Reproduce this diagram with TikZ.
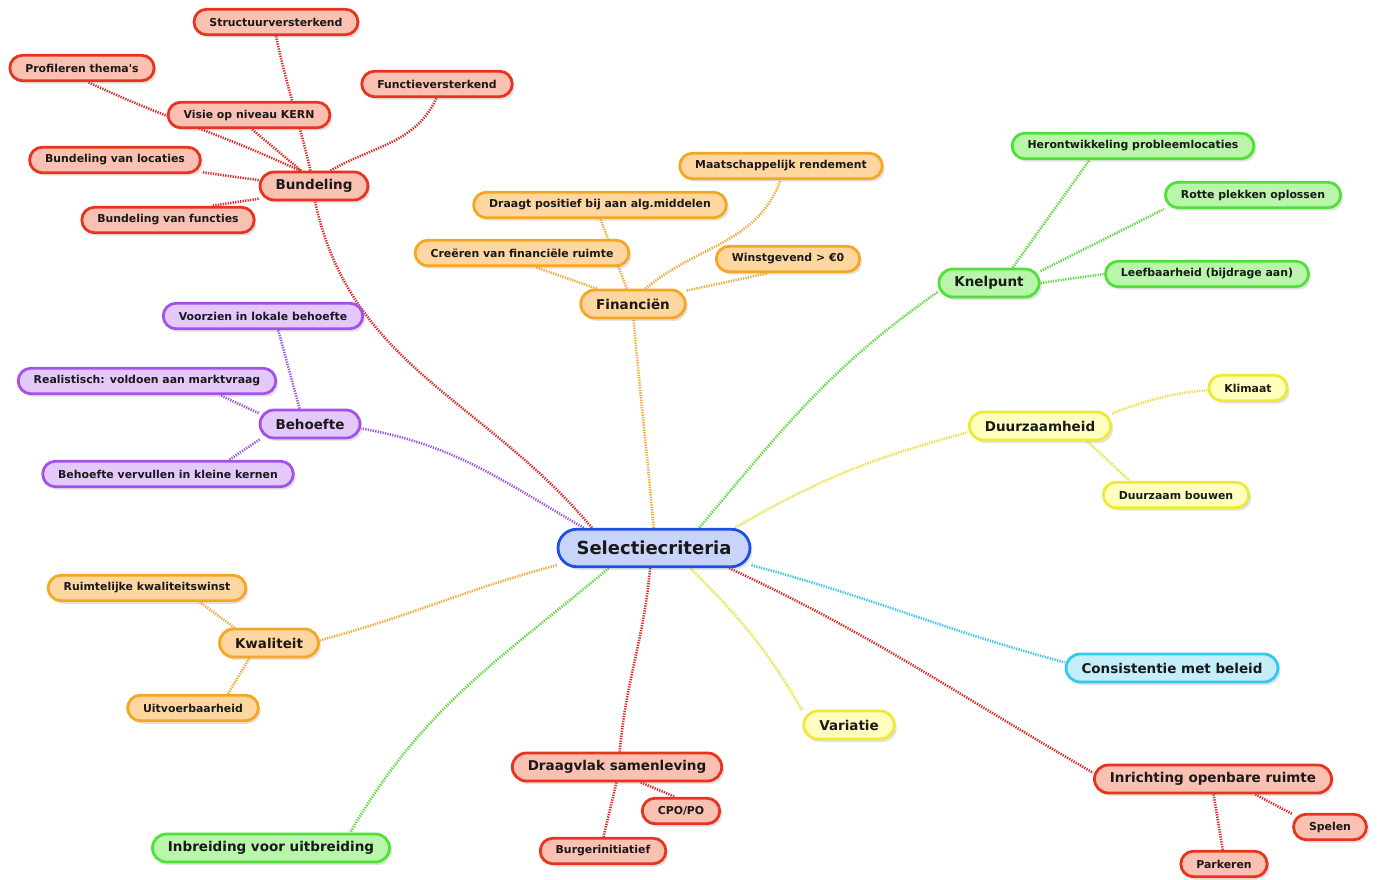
\documentclass[tikz,border=0pt]{standalone}
\usepackage{fontspec}
\setmainfont{DejaVu Sans}
\usepackage{tikz}
\usetikzlibrary{shadows,backgrounds}

\definecolor{ink}{RGB}{25,25,25}
\definecolor{redB}{RGB}{232,52,30}
\definecolor{redF}{RGB}{250,192,178}
\definecolor{redL}{RGB}{218,48,42}
\definecolor{orgB}{RGB}{245,166,35}
\definecolor{orgF}{RGB}{253,214,160}
\definecolor{orgL}{RGB}{240,172,60}
\definecolor{grnB}{RGB}{80,225,55}
\definecolor{grnF}{RGB}{185,245,170}
\definecolor{grnL}{RGB}{95,220,65}
\definecolor{purB}{RGB}{165,80,235}
\definecolor{purF}{RGB}{228,200,250}
\definecolor{purL}{RGB}{160,90,220}
\definecolor{yelB}{RGB}{238,232,55}
\definecolor{yelF}{RGB}{255,255,190}
\definecolor{yelL}{RGB}{232,226,70}
\definecolor{bluB}{RGB}{30,80,230}
\definecolor{bluF}{RGB}{200,212,250}
\definecolor{cyaB}{RGB}{50,200,240}
\definecolor{cyaF}{RGB}{195,238,250}
\definecolor{cyaL}{RGB}{60,200,235}

\begin{document}
\begin{tikzpicture}[x=1pt,y=1pt,text=ink]
  \tikzstyle{box}=[draw,line width=2.8pt,inner ysep=0pt,inner xsep=15.5pt,
                   drop shadow={opacity=0.22,shadow xshift=2.5pt,shadow yshift=-3pt}]
  \tikzstyle{sub}=[box,minimum height=25.5pt,rounded corners=12.7pt,font=\bfseries\fontsize{10.9}{12}\selectfont]
  \tikzstyle{topic}=[box,minimum height=28pt,rounded corners=14pt,font=\bfseries\fontsize{13.5}{15}\selectfont]
  \tikzstyle{root}=[box,minimum height=37.5pt,rounded corners=18.7pt,inner xsep=18.5pt,font=\bfseries\fontsize{18}{20}\selectfont]
  \tikzstyle{rd}=[draw=redB,fill=redF]
  \tikzstyle{og}=[draw=orgB,fill=orgF]
  \tikzstyle{gr}=[draw=grnB,fill=grnF]
  \tikzstyle{pu}=[draw=purB,fill=purF]
  \tikzstyle{ye}=[draw=yelB,fill=yelF]
  \tikzstyle{bl}=[draw=bluB,fill=bluF]
  \tikzstyle{cy}=[draw=cyaB,fill=cyaF]
  \tikzstyle{link}=[line width=2.6pt,dash pattern=on 1.3pt off 1.2pt]

  \useasboundingbox (0,0) rectangle (1378,879);

  \node[root,bl]  (S)   at (654,331)  {Selectiecriteria};

  \node[topic,rd] (Bun) at (314,693)  {Bundeling};
  \node[topic,og] (Fin) at (633,575)  {Financiën};
  \node[topic,gr] (Kne) at (989,596)  {Knelpunt};
  \node[topic,pu] (Beh) at (310,455)  {Behoefte};
  \node[topic,ye] (Duu) at (1040,453) {Duurzaamheid};
  \node[topic,og] (Kwa) at (269,236)  {Kwaliteit};
  \node[topic,cy] (Con) at (1172,211) {Consistentie met beleid};
  \node[topic,ye] (Var) at (849,154)  {Variatie};
  \node[topic,rd] (Dra) at (617,112)  {Draagvlak samenleving};
  \node[topic,gr] (Inb) at (271,31)   {Inbreiding voor uitbreiding};
  \node[topic,rd] (Inr) at (1213,100) {Inrichting openbare ruimte};

  \node[sub,rd] (Str) at (276,857)  {Structuurversterkend};
  \node[sub,rd] (Pro) at (82,811)   {Profileren thema\textquotesingle s};
  \node[sub,rd] (Fun) at (437,795)  {Functieversterkend};
  \node[sub,rd] (Vis) at (249,764)  {Visie op niveau KERN};
  \node[sub,rd] (Loc) at (115,719)  {Bundeling van locaties};
  \node[sub,rd] (Fct) at (168,659)  {Bundeling van functies};

  \node[sub,og] (Maa) at (781,713)  {Maatschappelijk rendement};
  \node[sub,og] (Alg) at (600,674)  {Draagt positief bij aan alg.middelen};
  \node[sub,og] (Cre) at (522,626)  {Creëren van financiële ruimte};
  \node[sub,og] (Win) at (788,620)  {Winstgevend > €0};

  \node[sub,gr] (Her) at (1133,733) {Herontwikkeling probleemlocaties};
  \node[sub,gr] (Rot) at (1253,684) {Rotte plekken oplossen};
  \node[sub,gr] (Lee) at (1207,605) {Leefbaarheid (bijdrage aan)};

  \node[sub,pu] (Voo) at (263,563)  {Voorzien in lokale behoefte};
  \node[sub,pu] (Rea) at (147,498)  {Realistisch: voldoen aan marktvraag};
  \node[sub,pu] (Bvk) at (168,405)  {Behoefte vervullen in kleine kernen};

  \node[sub,ye] (Kli) at (1248,491) {Klimaat};
  \node[sub,ye] (Dbo) at (1176,384) {Duurzaam bouwen};

  \node[sub,og] (Rui) at (147,291)  {Ruimtelijke kwaliteitswinst};
  \node[sub,og] (Uit) at (193,171)  {Uitvoerbaarheid};

  \node[sub,rd] (Cpo) at (681,68)   {CPO/PO};
  \node[sub,rd] (Bur) at (603,28)   {Burgerinitiatief};

  \node[sub,rd] (Spe) at (1330,52)  {Spelen};
  \node[sub,rd] (Par) at (1224,15)  {Parkeren};

  \begin{pgfonlayer}{background}
  \path[link] (S.162)  edge[color=redL,out=130,in=-78]  (Bun.-86)
              (S.91)   edge[color=orgL,out=95,in=-85]   (Fin.-88)
              (S.24)   edge[color=grnL,out=50,in=215]   (Kne.190)
              (S.14)   edge[color=yelL,out=30,in=195]   (Duu.185)
              (S.-10)  edge[color=cyaL,out=-15,in=165]  (Con.177)
              (S.-15)  edge[color=redL,out=-25,in=150]  (Inr.177)
              (S.-29)  edge[color=yelL,out=-45,in=120]  (Var.163)
              (S.-101) edge[color=redL,out=-95,in=85]   (Dra.80)
              (S.-156) edge[color=grnL,out=-140,in=60]  (Inb.11)
              (S.190)  edge[color=orgL,out=195,in=15]   (Kwa.3)
              (S.164)  edge[color=purL,out=150,in=-10]  (Beh.-5);

  \path[link,color=redL] (Bun.103) edge[out=103,in=-78] (Str.-90)
                         (Bun.133) edge[out=155,in=-25] (Pro.-67)
                         (Bun.43)  edge[out=30,in=-115] (Fun.-92)
                         (Bun.130) edge (Vis.-79)
                         (Bun.174) edge (Loc.-8)
                         (Bun.193) edge (Fct.18)
                         (Dra.-33) edge (Cpo.113)
                         (Dra.-92) edge (Bur.88)
                         (Inr.-20) edge (Spe.161)
                         (Inr.-88) edge (Par.95);

  \path[link,color=orgL] (Fin.157) edge (Cre.-47)
                         (Fin.112) edge (Alg.-88)
                         (Fin.51)  edge[out=40,in=-110] (Maa.-92)
                         (Fin.14)  edge (Win.-145)
                         (Kwa.156) edge (Rui.-15)
                         (Kwa.-142) edge (Uit.22);

  \path[link,color=grnL] (Kne.33) edge (Her.-162)
                         (Kne.13) edge (Rot.-171)
                         (Kne.0)  edge (Lee.180);

  \path[link,color=purL] (Beh.124)  edge (Voo.-43)
                         (Beh.168)  edge (Rea.-11)
                         (Beh.-163) edge (Bvk.13);

  \path[link,color=yelL] (Duu.10)  edge[out=20,in=185] (Kli.183)
                         (Duu.-18) edge (Dbo.163);
  \end{pgfonlayer}
\end{tikzpicture}
\end{document}
